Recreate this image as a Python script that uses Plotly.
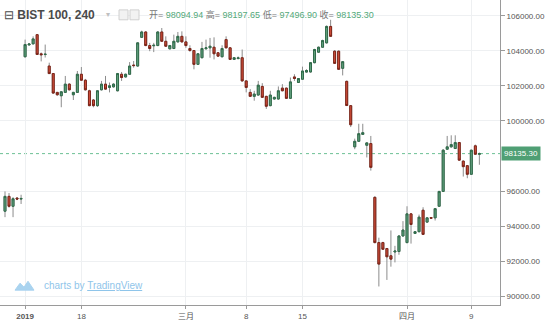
import plotly.graph_objects as go

# ---- data ----
opens = [94847, 95694, 95129, 95598, 95540,
         103665, 104340, 104400, 104926, 103830, 103790, 103134, 102704, 101630, 101438,
         101630, 102100, 101495, 101630, 102665, 102326, 101721, 101195, 100873, 101777,
         102100, 101913, 101947, 101721, 102665, 102512, 102665, 103190, 103134, 104773,
         105079, 104304, 104290, 104304, 105079, 104547, 104118, 104135, 104513, 104830,
         104513, 104135, 104021, 103230, 103609, 104118, 104174, 104208, 103891, 103665,
         104643, 104174, 103513, 103560, 103609, 102286, 101630, 101404, 101478, 101969,
         101404, 100873, 101251, 101251, 101873, 101873, 101291, 102512, 102196, 102382,
         102790, 102795, 103326, 103925, 104208, 104457, 105395, 103982, 103982, 103004,
         102260, 100873, 98521, 98838, 99233, 98612, 98708, 95638, 93055, 93055,
         92716, 92303, 92520, 92546, 93433, 93055, 94695, 93580, 93677, 94903,
         94225, 94480, 94468, 95129, 95977, 98386, 98521, 98425, 98764, 97707,
         97447, 96955, 98578, 98094.94]
highs = [95977, 95884, 95650, 95650, 95786,
         104643, 104450, 104830, 104965, 103908, 104361, 103326, 102720, 101650, 101700,
         102569, 102150, 101660, 102851, 103077, 102400, 101780, 101250, 101750, 102286,
         102569, 102196, 102150, 102740, 102795, 102700, 103360, 103420, 104490, 105152,
         105120, 104457, 104457, 105120, 105305, 104830, 104340, 104926, 105079, 105113,
         104830, 104320, 104050, 103870, 104513, 104643, 104739, 104773, 103930, 104320,
         104830, 104200, 103650, 103680, 104078, 102300, 101817, 101721, 102286, 102156,
         101430, 101721, 101380, 101969, 102100, 101900, 102478, 102665, 102450, 103100,
         102950, 103360, 104120, 104250, 104640, 105450, 105774, 104040, 104020, 103420,
         102300, 100900, 98990, 99838, 99838, 98780, 99143, 95700, 93336, 93100,
         92750, 93750, 92870, 93460, 94282, 95129, 94720, 93710, 94654, 95073,
         94500, 94510, 95020, 96000, 98400, 99143, 99180, 99180, 98800, 97740,
         97480, 98360, 98650, 98197.65]
lows = [94508, 95050, 94508, 95480, 95260,
        103620, 104300, 104380, 103770, 103400, 103620, 102680, 101560, 101438, 100782,
        101600, 101740, 101195, 101600, 102300, 101740, 100840, 100780, 100800, 101740,
        101780, 101630, 101900, 101690, 102286, 102480, 102640, 103043, 103100, 104740,
        104270, 103982, 103930, 104270, 104520, 104240, 104090, 104100, 104480, 104480,
        104174, 103947, 102947, 103200, 103580, 104090, 103609, 103513, 103660, 103630,
        104150, 103480, 103480, 103520, 102250, 101630, 101380, 101155, 101450, 101320,
        100686, 100840, 101220, 101220, 101700, 101260, 101260, 102286, 102170, 102350,
        102760, 102760, 103290, 103890, 104180, 104420, 104800, 103250, 102920, 102600,
        100850, 99650, 98386, 98810, 99200, 97916, 97164, 93020, 90550, 92640,
        90924, 91681, 91924, 92360, 93400, 93020, 92998, 93550, 93650, 93500,
        94200, 94420, 94315, 95100, 95950, 98350, 98480, 98400, 97730, 96825,
        96729, 96920, 98080, 97496.90]
closes = [95694, 95129, 95559, 95542, 95575,
          104361, 104390, 104683, 103795, 103780, 103810, 102704, 101591, 101495, 101664,
          102100, 101777, 101630, 102665, 102326, 101777, 100873, 100873, 101721, 102100,
          101817, 102005, 102100, 102704, 102478, 102665, 103134, 103160, 104457, 105079,
          104304, 104135, 104320, 105079, 104547, 104265, 104304, 104547, 104830, 104513,
          104304, 104021, 103230, 103835, 104135, 104174, 104265, 103835, 103699, 104135,
          104174, 103513, 103609, 103600, 102286, 101913, 101404, 101534, 102043, 101348,
          100839, 101478, 101348, 101721, 101721, 101291, 102230, 102422, 102422, 102851,
          102880, 103326, 104078, 104208, 104587, 105395, 104830, 103287, 102947, 103383,
          100880, 99782, 98838, 99273, 99329, 98747, 97351, 93055, 91828, 92676,
          92246, 92111, 92570, 93433, 93773, 94695, 94090, 93677, 94508, 93524,
          94468, 94450, 94993, 95977, 98329, 98521, 98650, 98764, 97763, 97391,
          96955, 98329, 98100, 98135.30]

tick_idx = [5, 19, 45, 60, 74, 100, 116]
tick_labels = ["<b>2019</b>", "18", "三月", "8", "15", "四月", "9"]
# 98000 is hidden behind the last-price label in the reference
y_ticks = [90000, 92000, 94000, 96000, 100000, 102000, 104000, 106000]

symbol_title = "BIST 100, 240"
legend_names = ["开", "高", "低", "收"]

# ---- styles ----
FONT = "Liberation Sans, Noto Sans CJK SC, sans-serif"
UP_FILL, UP_LINE = "#63a27f", "#2f6b4a"
DN_FILL, DN_LINE = "#d5503c", "#7c2418"
WICK = "#8c8c8c"
LAST_GREEN = "#53a97a"
PLOT_W, PLOT_H = 500, 308

x = list(range(len(opens)))
body_hi = [max(o, c) for o, c in zip(opens, closes)]
body_lo = [min(o, c) for o, c in zip(opens, closes)]

fig = go.Figure()
# wicks (grey)
fig.add_trace(go.Candlestick(
    x=x, open=opens, high=highs, low=lows, close=closes,
    increasing=dict(line=dict(color=WICK, width=1), fillcolor=UP_FILL),
    decreasing=dict(line=dict(color=WICK, width=1), fillcolor=DN_FILL),
    hoverinfo="skip", showlegend=False))
# bodies with coloured outline
fig.add_trace(go.Candlestick(
    x=x, open=opens, high=body_hi, low=body_lo, close=closes,
    increasing=dict(line=dict(color=UP_LINE, width=1), fillcolor=UP_FILL),
    decreasing=dict(line=dict(color=DN_LINE, width=1), fillcolor=DN_FILL),
    hoverinfo="skip", showlegend=False))

def px_x(p):
    return p / PLOT_W

def px_y(p):
    return 1 - p / PLOT_H

annotations = []
annotations.append(dict(
    xref="paper", yref="paper", x=px_x(2), y=px_y(15), xanchor="left", yanchor="middle",
    text="⊟ <b>" + symbol_title + "</b>", showarrow=False,
    font=dict(family=FONT, size=12, color="#4a4a4a")))
annotations.append(dict(
    xref="paper", yref="paper", x=px_x(104), y=px_y(15), xanchor="left", yanchor="middle",
    text="▾", showarrow=False, font=dict(family=FONT, size=8, color="#c0c0c0")))

vals = [opens[-1], highs[-1], lows[-1], closes[-1]]
legend_text = " ".join(
    f"{n}= <span style='color:{LAST_GREEN}'>{v:.2f}</span>" for n, v in zip(legend_names, vals))
annotations.append(dict(
    xref="paper", yref="paper", x=px_x(147), y=px_y(15), xanchor="left", yanchor="middle",
    text=legend_text, showarrow=False, font=dict(family=FONT, size=9, color="#777777")))

annotations.append(dict(
    xref="paper", yref="y", x=1.0, y=closes[-1], xanchor="left", yanchor="middle", xshift=1,
    text=f"{closes[-1]:.2f}", showarrow=False, bgcolor="#4f9f74", borderpad=2,
    font=dict(family=FONT, size=8, color="white")))

annotations.append(dict(
    xref="paper", yref="paper", x=px_x(42), y=px_y(288), xanchor="left", yanchor="middle",
    text="charts by <u>TradingView</u>", showarrow=False,
    font=dict(family=FONT, size=10, color="#8fc5ea")))

shapes = [
    dict(type="line", xref="paper", yref="y", x0=0, x1=1, y0=closes[-1], y1=closes[-1],
         line=dict(color="#6cc095", width=1, dash="dot"), layer="below"),
    dict(type="rect", xref="paper", yref="paper", x0=px_x(119), x1=px_x(128),
         y0=px_y(20), y1=px_y(10), line=dict(color="#d0d0d0", width=1), fillcolor="#f2f2f2"),
    dict(type="rect", xref="paper", yref="paper", x0=px_x(130), x1=px_x(139),
         y0=px_y(20), y1=px_y(10), line=dict(color="#d0d0d0", width=1), fillcolor="#f2f2f2"),
    # TradingView cloud logo (decoration)
    dict(type="path", xref="paper", yref="paper",
         path=(f"M {px_x(15)} {px_y(293)} L {px_x(20)} {px_y(286)} L {px_x(24)} {px_y(290)} "
               f"L {px_x(28)} {px_y(284)} L {px_x(34)} {px_y(293)} Z"),
         fillcolor="#a9d3ef", line=dict(color="#a9d3ef", width=1)),
]

fig.update_layout(
    width=550, height=321,
    margin=dict(l=0, r=50, t=0, b=13),
    paper_bgcolor="white", plot_bgcolor="white",
    showlegend=False,
    annotations=annotations, shapes=shapes,
    font=dict(family=FONT, size=8, color="#555555"),
    xaxis=dict(
        range=[-5 / 4.02, 495 / 4.02], rangeslider=dict(visible=False),
        tickmode="array", tickvals=tick_idx, ticktext=tick_labels,
        showgrid=True, gridcolor="#eef0f2", gridwidth=1,
        showline=True, linecolor="#9a9a9a", linewidth=1,
        ticks="outside", ticklen=3, tickcolor="#9a9a9a",
        tickfont=dict(family=FONT, size=8, color="#555555"),
        zeroline=False, fixedrange=True),
    yaxis=dict(
        side="right", range=[89493, 106904],
        tickmode="array", tickvals=y_ticks, tickformat=".2f",
        showgrid=True, gridcolor="#eef0f2", gridwidth=1,
        showline=True, linecolor="#9a9a9a", linewidth=1,
        ticks="outside", ticklen=4, tickcolor="#9a9a9a",
        tickfont=dict(family=FONT, size=8, color="#555555"),
        zeroline=False, fixedrange=True),
)

fig.write_html("out.html")
